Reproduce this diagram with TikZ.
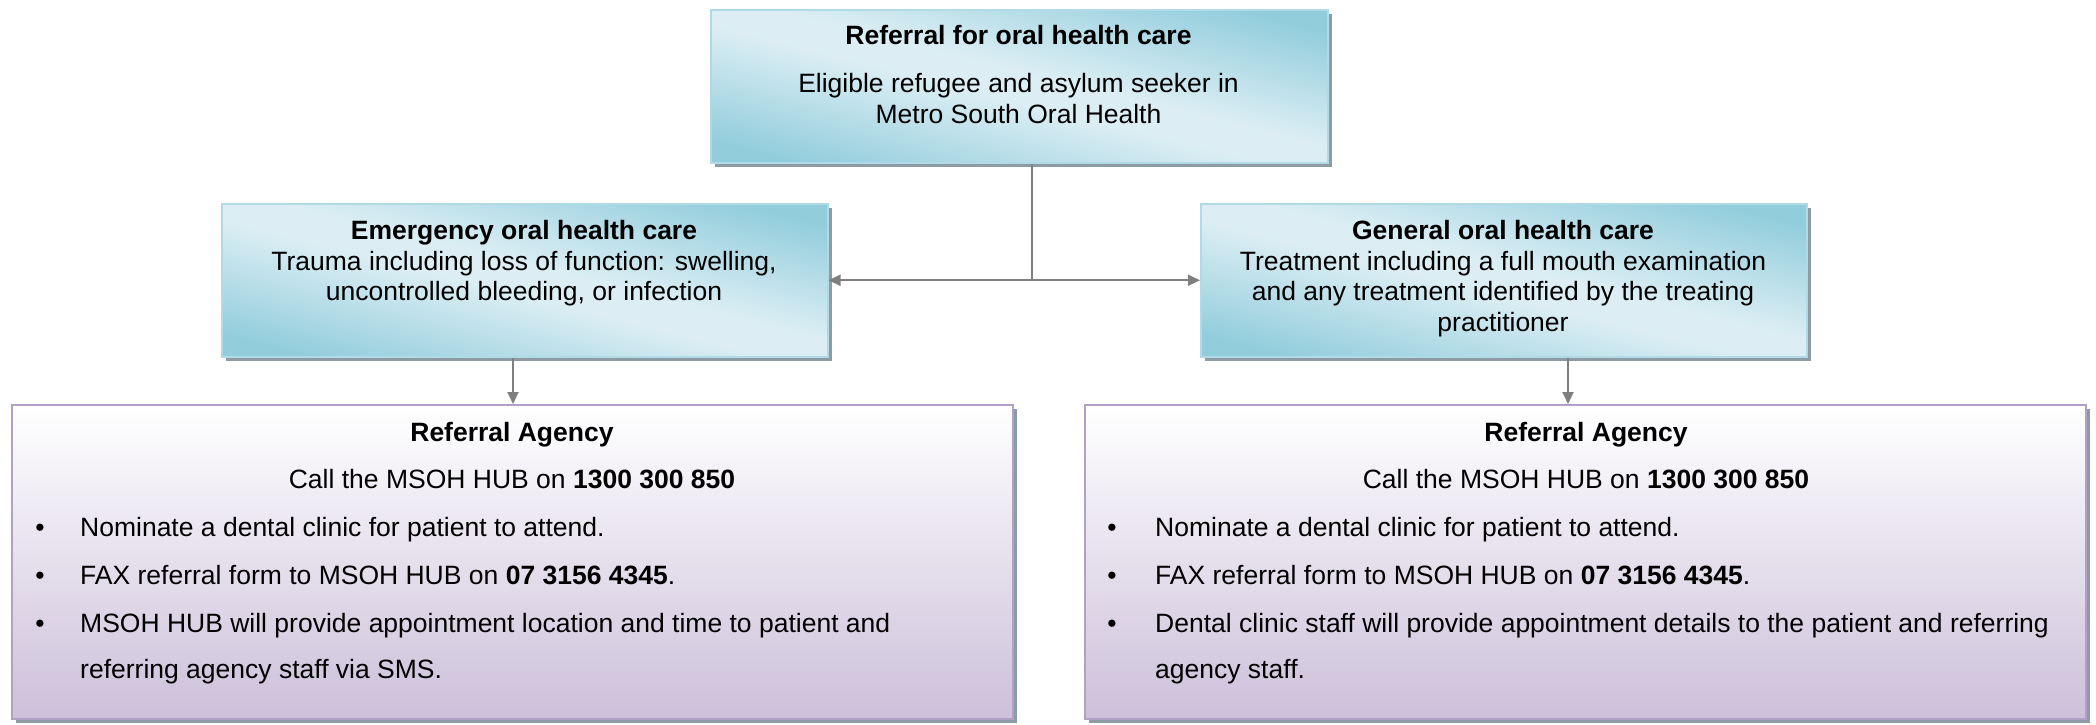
\documentclass[tikz,border=0pt]{standalone}
\usepackage{fontspec}
\setmainfont{Liberation Sans}
\usetikzlibrary{arrows.meta,shadows}
\definecolor{tealdark}{HTML}{92CDDC}
\definecolor{teallight}{HTML}{DCEEF4}
\definecolor{tealline}{HTML}{B0DAE6}
\definecolor{shadowgray}{HTML}{8D9CA4}
\definecolor{purplebot}{HTML}{CCC0DA}
\definecolor{purpleline}{HTML}{B2A1C7}
\definecolor{conncol}{HTML}{7F7F7F}
\pgfdeclareverticalshading{tealshade}{100bp}{color(0bp)=(tealdark); color(24bp)=(tealdark); color(47bp)=(teallight); color(53bp)=(teallight); color(76bp)=(tealdark); color(100bp)=(tealdark)}
\tikzset{
  boxbase/.style={rectangle, inner sep=0pt, anchor=north west, line width=1.5pt},
  tealbox/.style={boxbase, draw=tealline, shade, shading=tealshade, shading angle=-14,
    drop shadow={shadow xshift=4pt, shadow yshift=-4pt, fill=shadowgray, opacity=1}},
  purplebox/.style={boxbase, draw=purpleline, top color=white, bottom color=purplebot,
    drop shadow={shadow xshift=4pt, shadow yshift=-4pt, fill=shadowgray, opacity=1}},
  txt/.style={anchor=base, inner sep=0pt, font=\fontsize{26.5}{30.7}\selectfont},
  ltxt/.style={txt, anchor=base west},
  conn/.style={draw=conncol, line width=2pt},
  arr/.style={conn, -{Triangle[length=12pt,width=11pt]}},
}
\begin{document}
\begin{tikzpicture}[x=1pt,y=-1pt]
\useasboundingbox (0,0) rectangle (2096,724);
% boxes
\node[tealbox, minimum width=617pt, minimum height=153pt] (top) at (710,9) {};
\node[tealbox, minimum width=606pt, minimum height=153pt] (lmid) at (221,203) {};
\node[tealbox, minimum width=606pt, minimum height=153pt] (rmid) at (1200,203) {};
\node[purplebox, minimum width=1001pt, minimum height=314pt] (lbot) at (11,404) {};
\node[purplebox, minimum width=1001pt, minimum height=314pt] (rbot) at (1084,404) {};
% connectors
\coordinate (jx) at (1032,0);
\coordinate (j) at (lmid.east -| jx);
\coordinate (la) at (513,0);
\coordinate (ra) at (1568,0);
\draw[conn] (top.south -| j) -- (j);
\draw[arr] (j) -- (lmid.east);
\draw[arr] (j) -- (rmid.west);
\draw[arr] (lmid.south -| la) -- (lbot.north -| la);
\draw[arr] (rmid.south -| ra) -- (rbot.north -| ra);
% top text
\node[txt] (t1) at (1018.5,44) {\bfseries Referral for oral health care};
\node[txt] (t2) at (1018.5,92) {Eligible refugee and asylum seeker in};
\node[txt] (t3) at (1018.5,123) {Metro South Oral Health};
% left mid text
\node[txt] (l1) at (524,239) {\bfseries Emergency oral health care};
\node[txt] (l2) at (524,270) {Trauma including loss of function: swelling,};
\node[txt] (l3) at (524,300) {uncontrolled bleeding, or infection};
% right mid text
\node[txt] (r1) at (1503,239) {\bfseries General oral health care};
\node[txt] (r2) at (1503,270) {Treatment including a full mouth examination};
\node[txt] (r3) at (1503,300) {and any treatment identified by the treating};
\node[txt] (r4) at (1503,331) {practitioner};
% left bottom text
\node[txt] (lb1) at (512,441) {\bfseries Referral Agency};
\node[txt] (lb2) at (512,488) {Call the MSOH HUB on \textbf{1300 300 850}};
\node[txt] (lbb1) at (40,536) {•};
\node[ltxt] (lbt1) at (80,536) {Nominate a dental clinic for patient to attend.};
\node[txt] (lbb2) at (40,584) {•};
\node[ltxt] (lbt2) at (80,584) {FAX referral form to MSOH HUB on \textbf{07 3156 4345}.};
\node[txt] (lbb3) at (40,632) {•};
\node[ltxt] (lbt3) at (80,632) {MSOH HUB will provide appointment location and time to patient and};
\node[ltxt] (lbt4) at (80,678) {referring agency staff via SMS.};
% right bottom text
\node[txt] (rb1) at (1586,441) {\bfseries Referral Agency};
\node[txt] (rb2) at (1586,488) {Call the MSOH HUB on \textbf{1300 300 850}};
\node[txt] (rbb1) at (1112,536) {•};
\node[ltxt] (rbt1) at (1155,536) {Nominate a dental clinic for patient to attend.};
\node[txt] (rbb2) at (1112,584) {•};
\node[ltxt] (rbt2) at (1155,584) {FAX referral form to MSOH HUB on \textbf{07 3156 4345}.};
\node[txt] (rbb3) at (1112,632) {•};
\node[ltxt] (rbt3) at (1155,632) {Dental clinic staff will provide appointment details to the patient and referring};
\node[ltxt] (rbt4) at (1155,678) {agency staff.};
\end{tikzpicture}
\end{document}
